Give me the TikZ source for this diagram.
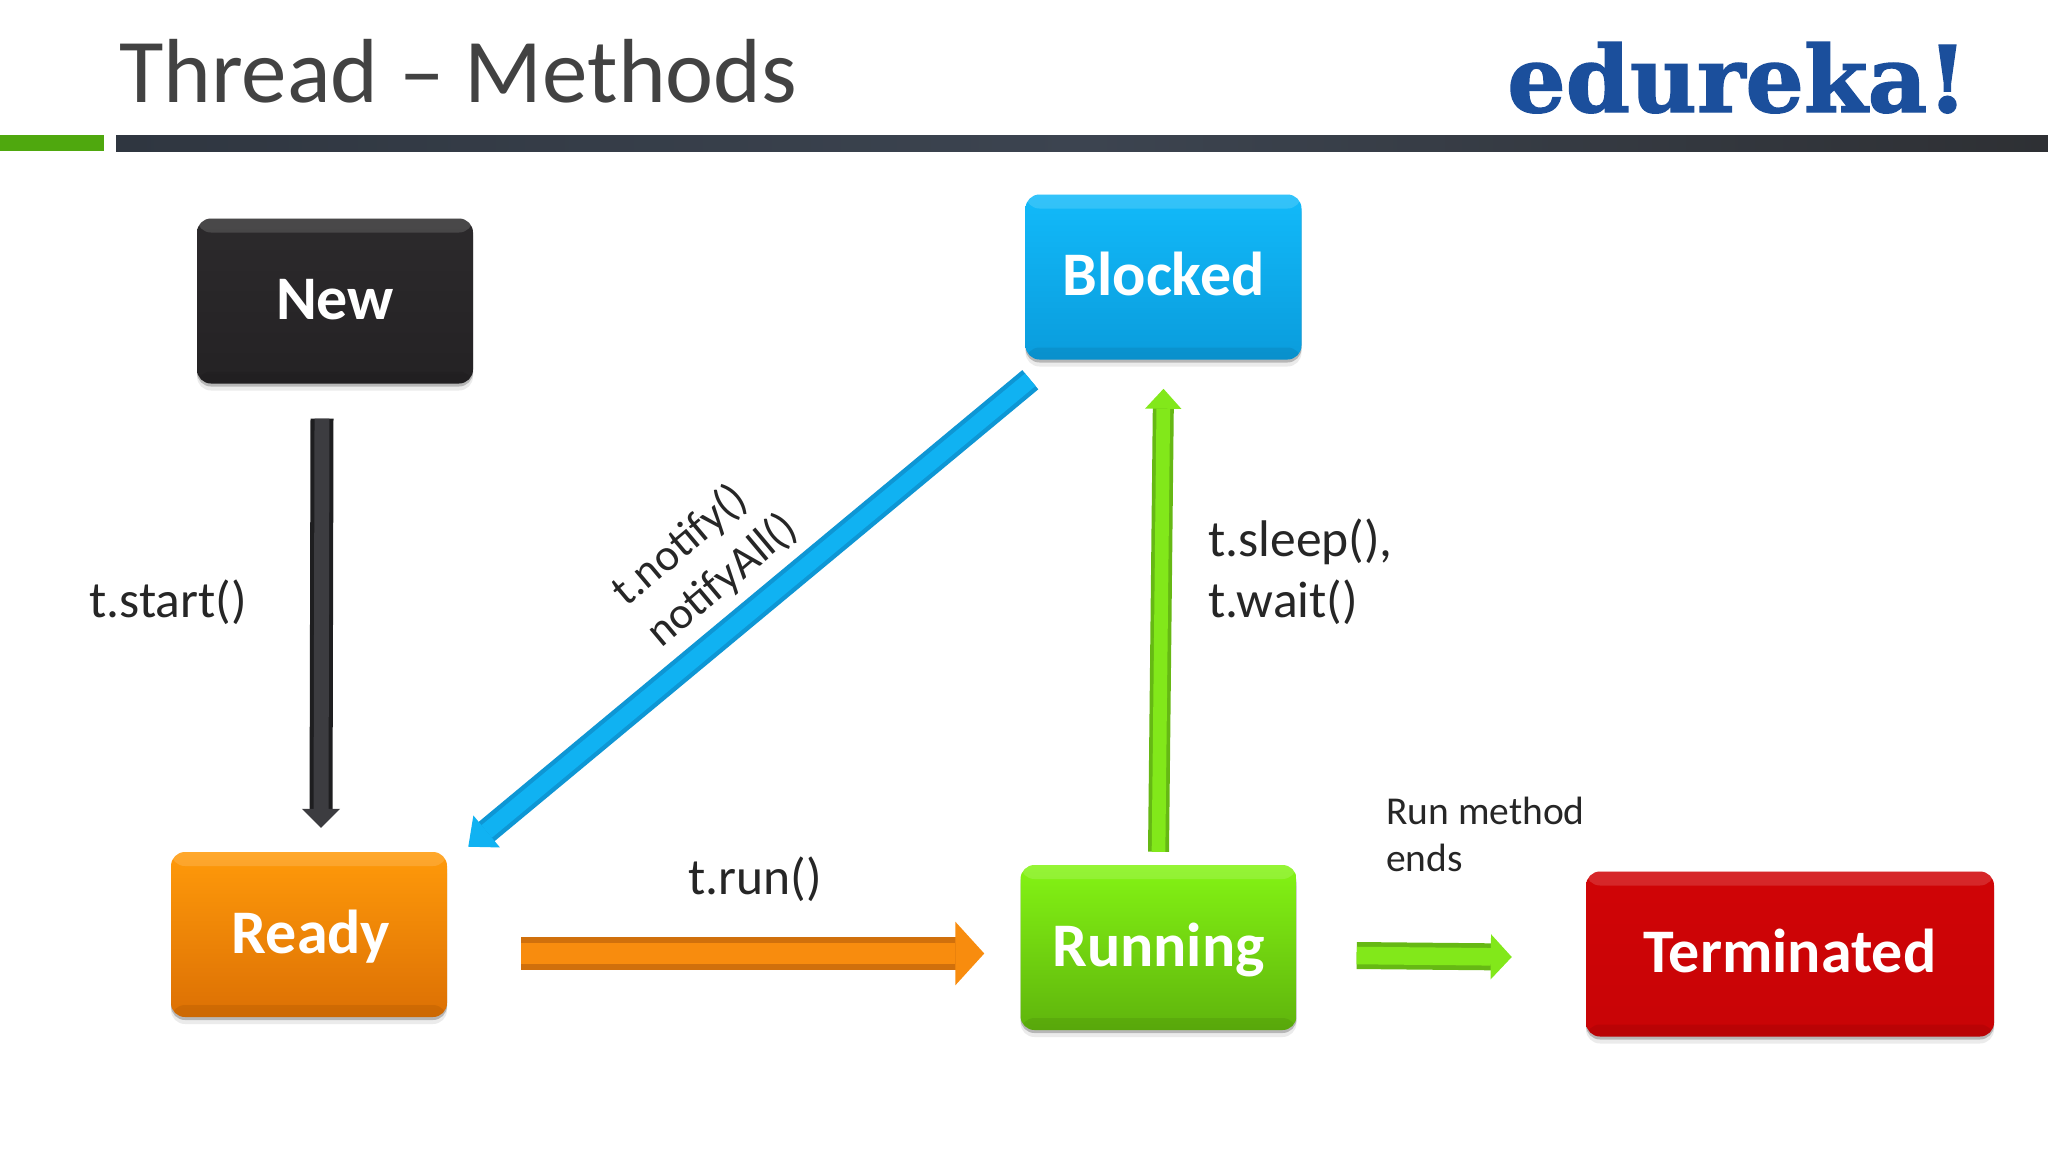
\documentclass[tikz,border=0pt]{standalone}
\usepackage{fontspec}
\setmainfont{Carlito}
\newfontfamily\logofont[FakeBold=1.5]{DejaVu Serif Bold}
\usetikzlibrary{arrows.meta, shadows, positioning}

\definecolor{newtop}{HTML}{2C2A2C}
\definecolor{newbot}{HTML}{242224}
\definecolor{blockedtop}{HTML}{12BAFA}
\definecolor{blockedbot}{HTML}{0A9CDC}
\definecolor{readytop}{HTML}{FF9A0A}
\definecolor{readybot}{HTML}{DC7004}
\definecolor{runningtop}{HTML}{84F414}
\definecolor{runningbot}{HTML}{5FB40C}
\definecolor{termtop}{HTML}{D00406}
\definecolor{termbot}{HTML}{C80406}
\definecolor{blockedline}{HTML}{0E96D4}
\definecolor{blockedlineglow}{HTML}{10B2F2}
\definecolor{runningline}{HTML}{66B814}
\definecolor{runninglineglow}{HTML}{82E81A}
\definecolor{readyline}{HTML}{D0700C}
\definecolor{readylineglow}{HTML}{F88C0E}
\definecolor{newline}{HTML}{1E1E20}
\definecolor{newlineglow}{HTML}{3C3C40}
\definecolor{titlegrey}{HTML}{424242}
\definecolor{logoblue}{HTML}{1B4F9C}
\definecolor{barleft}{HTML}{2F3640}
\definecolor{barmid}{HTML}{3C4450}
\definecolor{barright}{HTML}{2E3034}
\definecolor{bargreen}{HTML}{4FA80E}

\tikzset{
statebox/.style n args={2}{rounded corners=14pt, inner sep=0pt, minimum width=276pt, minimum height=165pt,
  text height=37pt, text depth=0pt, text=white, top color=#1, bottom color=#2,
  font=\fontsize{62}{62}\selectfont\bfseries,
  drop shadow={shadow xshift=0pt, shadow yshift=-7pt, opacity=.08, fill=black},
  drop shadow={shadow xshift=0pt, shadow yshift=-3pt, opacity=.22, fill=black},
  path picture={
    \fill[white, opacity=.14] (path picture bounding box.north west) rectangle ([yshift=-14pt]path picture bounding box.north east);
    \fill[black, opacity=.07] (path picture bounding box.south west) rectangle ([yshift=12pt]path picture bounding box.south east);
  }},
flowline/.style n args={4}{draw=#1, line width=#2pt, line cap=butt, -{Triangle[length=#3pt, width=#4pt, fill=#1glow, color=#1glow]},
  postaction={draw=#1glow, line width=.65*#2pt, -, shorten >=#3pt}},
labeltext/.style={inner sep=0pt, text=black!85, font=\fontsize{51.5}{61}\selectfont, align=left, anchor=base west},
}

\begin{document}
\begin{tikzpicture}[x=1pt, y=-1pt]
\useasboundingbox (0,0) rectangle (2048,1152);

\node (title) [inner sep=0pt, anchor=base west, text=titlegrey, font=\fontsize{91}{91}\selectfont] at (119,102) {Thread -- Methods};
\node (logo) [inner sep=0pt, anchor=base west, text=logoblue, font=\logofont\fontsize{92}{92}\selectfont] at (1507,112) {edureka!};
\fill[bargreen] (0,135) rectangle (104,151);
\fill[left color=barleft, right color=barright, middle color=barmid] (116,135) rectangle (2048,151);

\node (new) [statebox={newtop}{newbot}] at (335,301) {New};
\node (blocked) [statebox={blockedtop}{blockedbot}] at (1163.5,277) {Blocked};
\node (ready) [statebox={readytop}{readybot}] at (309,934.5) {\hspace{4pt}Ready};
\node (running) [statebox={runningtop}{runningbot}] at (1158.5,947.5) {Running};
\node (terminated) [statebox={termtop}{termbot}, minimum width=408pt] at (1790,954) {Terminated};

\draw[flowline={newline}{23}{19}{37}] ([shift={(-13,35)}]new.south) -- ([shift={(12,-24)}]ready.north);
\draw[flowline={blockedline}{25}{24}{40}] ([shift={(5,20)}]blocked.south west) -- ([shift={(21,-5)}]ready.north east);
\draw[flowline={runningline}{21}{20}{35}] ([shift={(0,-13)}]running.north) -- ([shift={(0,29)}]blocked.south);
\draw[flowline={readyline}{33}{29}{62}] ([shift={(74,19)}]ready.east) -- ([shift={(-36,6)}]running.west);
\draw[flowline={runningline}{27}{21}{44}] ([shift={(60,8)}]running.east) -- ([shift={(-74,3)}]terminated.west);

\node (start) [labeltext] at (89,617) {t.start()};
\node (sleep) [labeltext] at (1208,617) {t.sleep(),\\t.wait()};
\node (run) [labeltext] at (688,894) {t.run()};
\node (ends) [labeltext, font=\fontsize{39.5}{47}\selectfont] at (1386,871) {Run method\\ends};
\node (notify) [inner sep=0pt, text=black!85, align=left, rotate=40, font=\fontsize{45}{54}\selectfont] at (705,560) {t.notify()\\notifyAll()};

\end{tikzpicture}
\end{document}
